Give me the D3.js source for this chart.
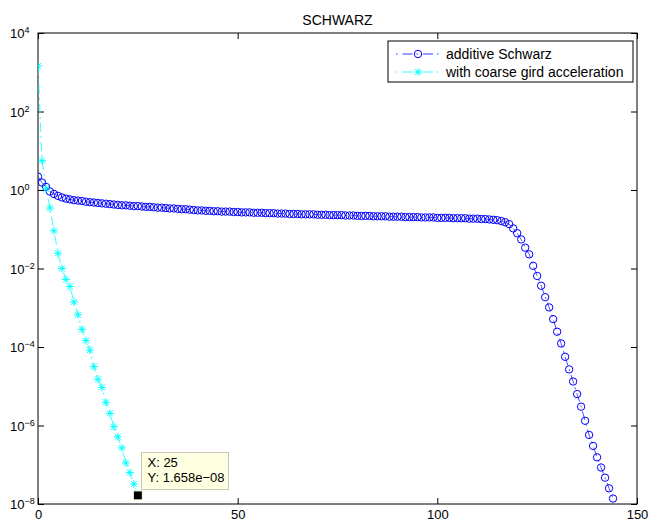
<!DOCTYPE html>
<html><head><meta charset="utf-8">
<script src="https://cdn.jsdelivr.net/npm/d3@7"></script>
<style>body{margin:0;background:#fff}svg{display:block}</style>
</head><body>
<script>
const chartTitle = "SCHWARZ";
const seriesNames = ["additive Schwarz", "with coarse gird acceleration"];
const schwarzValues = [
  2.19, 1.55, 1.20, 0.912, 0.794, 0.708, 0.646, 0.603, 0.575, 0.550,
  0.537, 0.525, 0.501, 0.490, 0.479, 0.468, 0.457, 0.447, 0.437, 0.427,
  0.417, 0.407, 0.407, 0.398, 0.389, 0.389, 0.380, 0.372, 0.372, 0.363,
  0.355, 0.355, 0.347, 0.339, 0.339, 0.331, 0.324, 0.324, 0.316, 0.309,
  0.302, 0.302, 0.295, 0.295, 0.288, 0.288, 0.282, 0.282, 0.282, 0.275,
  0.275, 0.269, 0.269, 0.269, 0.263, 0.263, 0.263, 0.257, 0.257, 0.257,
  0.251, 0.251, 0.251, 0.245, 0.245, 0.245, 0.240, 0.240, 0.240, 0.240,
  0.234, 0.234, 0.234, 0.229, 0.229, 0.229, 0.229, 0.224, 0.224, 0.224,
  0.219, 0.219, 0.219, 0.219, 0.214, 0.214, 0.214, 0.214, 0.209, 0.209,
  0.209, 0.209, 0.204, 0.204, 0.204, 0.204, 0.200, 0.200, 0.200, 0.200,
  0.195, 0.195, 0.195, 0.195, 0.191, 0.191, 0.191, 0.191, 0.186, 0.186,
  0.186, 0.182, 0.182, 0.178, 0.174, 0.170, 0.162, 0.151,
  0.135, 0.105, 0.0794, 0.0550, 0.0339, 0.0229, 0.0117, 6.46e-3, 3.63e-3, 1.86e-3,
  1.02e-3, 5.13e-4, 2.45e-4, 1.23e-4, 5.62e-5, 2.69e-5, 1.32e-5, 6.31e-6, 3.02e-6, 1.32e-6,
  5.75e-7, 3.02e-7, 1.55e-7, 8.51e-8, 4.68e-8, 2.51e-8, 1.38e-8
];
const coarseValues = [
  1450, 5.6, 1.07, 0.347, 0.0912, 0.0245, 0.0100, 5.25e-3, 3.47e-3, 1.41e-3,
  6.61e-4, 2.82e-4, 1.45e-4, 8.32e-5, 3.16e-5, 1.51e-5, 9.33e-6, 3.89e-6, 2.04e-6, 9.33e-7,
  5.13e-7, 2.69e-7, 1.12e-7, 6.31e-8, 3.24e-8, 1.658e-8
];
const xTicks = [0, 50, 100, 150];
const yTickExponents = [-8, -6, -4, -2, 0, 2, 4];
const dataTipX = 25;
const dataTipY = 1.658e-8;
const dataTipLines = ["X: 25", "Y: 1.658e\u221208"];

(function () {
const W = 650, H = 521;
const L = 38, R = 637, T = 33, B = 504;
const FONT = "'Liberation Sans', Arial, Helvetica, sans-serif";
const BLUE = "#0000ff", CYAN = "#00ffff";

const svg = d3.select("body").append("svg").attr("width", W).attr("height", H)
  .style("font-family", FONT);

const x = d3.scaleLinear().domain([0, 150]).range([L, R]);
const y = d3.scaleLog().domain([1e-8, 1e4]).range([B, T]);
const yTicks = yTickExponents.map(e => Math.pow(10, e));

svg.append("defs").append("clipPath").attr("id", "clip")
  .append("rect").attr("x", L).attr("y", T).attr("width", R - L).attr("height", B - T);

const styleAxis = g => {
  g.select(".domain").remove();
  g.selectAll(".tick line").attr("stroke", "#000").attr("stroke-width", 1);
};
const axB = svg.append("g").attr("transform", `translate(0,${B})`)
  .call(d3.axisBottom(x).tickValues(xTicks).tickSize(-6).tickPadding(6).tickFormat(d3.format("d")));
styleAxis(axB);
axB.selectAll("text").attr("font-size", 13).attr("fill", "#000").attr("font-family", FONT);
const axT = svg.append("g").attr("transform", `translate(0,${T})`)
  .call(d3.axisTop(x).tickValues(xTicks).tickSize(-6).tickFormat(""));
styleAxis(axT);

const axL = svg.append("g").attr("transform", `translate(${L},0)`)
  .call(d3.axisLeft(y).tickValues(yTicks).tickSize(-6).tickFormat(""));
styleAxis(axL);
axL.selectAll(".tick").each(function(d, i) {
  const t = d3.select(this).append("text").attr("fill", "#000").attr("font-family", FONT)
    .attr("text-anchor", "start").attr("x", -28).attr("y", 4.5).attr("font-size", 13);
  t.append("tspan").text("10");
  const e = yTickExponents[i];
  t.append("tspan").attr("font-size", 9).attr("dy", -5)
    .text(e < 0 ? "\u2212" + Math.abs(e) : String(e));
});
const axR = svg.append("g").attr("transform", `translate(${R},0)`)
  .call(d3.axisRight(y).tickValues(yTicks).tickSize(-6).tickFormat(""));
styleAxis(axR);

svg.append("rect").attr("x", L).attr("y", T).attr("width", R - L).attr("height", B - T)
  .attr("fill", "none").attr("stroke", "#000").attr("stroke-width", 1);

svg.append("text").attr("x", (L + R) / 2).attr("y", 25).attr("text-anchor", "middle")
  .attr("font-size", 14).text(chartTitle);

const plot = svg.append("g").attr("clip-path", "url(#clip)");
const line = d3.line().x((d, i) => x(i)).y(d => y(d));
const DASH = "9,4,2,4";

plot.append("path").datum(schwarzValues).attr("d", line)
  .attr("fill", "none").attr("stroke", BLUE).attr("stroke-width", 0.7).attr("stroke-dasharray", DASH);
plot.append("path").datum(coarseValues).attr("d", line)
  .attr("fill", "none").attr("stroke", CYAN).attr("stroke-width", 0.8).attr("stroke-dasharray", DASH);

const circle = (g, cx, cy) => g.append("circle").attr("cx", cx).attr("cy", cy).attr("r", 3.7)
  .attr("fill", "none").attr("stroke", BLUE).attr("stroke-width", 1);
const star = (g, cx, cy) => {
  const a = 4, b = 2.9;
  g.append("path").attr("d",
    `M${cx - a},${cy}H${cx + a}M${cx},${cy - a}V${cy + a}M${cx - b},${cy - b}L${cx + b},${cy + b}M${cx - b},${cy + b}L${cx + b},${cy - b}`)
    .attr("stroke", CYAN).attr("stroke-width", 1).attr("fill", "none");
};

const mk1 = plot.append("g");
schwarzValues.forEach((v, i) => circle(mk1, x(i), y(v)));
const mk2 = plot.append("g");
coarseValues.forEach((v, i) => star(mk2, x(i), y(v)));

const lg = svg.append("g");
lg.append("rect").attr("x", 388).attr("y", 41).attr("width", 245).attr("height", 41)
  .attr("fill", "#fff").attr("stroke", "#000").attr("stroke-width", 1);
[[54, BLUE, circle], [72, CYAN, star]].forEach(([ly, col, m], k) => {
  lg.append("line").attr("x1", 396).attr("x2", 440).attr("y1", ly).attr("y2", ly)
    .attr("stroke", col).attr("stroke-width", 0.8).attr("stroke-dasharray", "1.5,5,10,4");
  m(lg, 418, ly);
  lg.append("text").attr("x", 446).attr("y", ly + 5).attr("font-size", 14).text(seriesNames[k]);
});

const dtx = x(dataTipX), dty = y(dataTipY);
const tip = svg.append("g");
tip.append("rect").attr("x", 141.5).attr("y", 452.5).attr("width", 87).attr("height", 37)
  .attr("fill", "#ffffe1").attr("stroke", "#c8c8b4").attr("stroke-width", 1);
dataTipLines.forEach((s, k) => tip.append("text").attr("x", 147.5).attr("y", 467 + k * 15)
  .attr("font-size", 13).text(s));
tip.append("rect").attr("x", dtx - 4.5).attr("y", dty - 4.5).attr("width", 9).attr("height", 9)
  .attr("fill", "#000").attr("stroke", "#ffffe1").attr("stroke-width", 1);
})();
</script>
</body></html>
